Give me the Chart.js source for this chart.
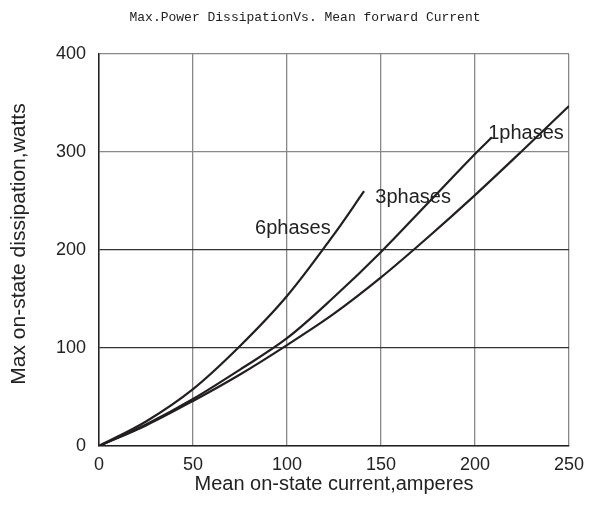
<!DOCTYPE html>
<html>
<head>
<meta charset="utf-8">
<script src="https://cdn.jsdelivr.net/npm/chart.js@4.4.1/dist/chart.umd.min.js"></script>
<style>
  html, body { margin: 0; padding: 0; background: #fff; }
  #wrap { width: 590px; height: 527px; }
</style>
</head>
<body>
<div id="wrap"><canvas id="grafico" width="590" height="527"></canvas></div>
<script>
// valores
const x6 = [0, 25, 50, 75, 100, 125, 141];
const y6 = [0, 25, 58, 102, 153, 216, 260];
const x3 = [0, 25, 50, 75, 100, 125, 150, 175, 200, 209];
const y3 = [0, 22, 48, 78, 110, 152, 198, 248, 298, 315];
const x1 = [0, 25, 50, 75, 100, 125, 150, 175, 200, 225, 250];
const y1 = [0, 21, 46, 73, 103, 135, 172, 213, 256, 301, 347];

const rotulos = ["6phases", "3phases", "1phases"];
const rotuloX = [83, 147, 207];
const rotuloY = [222, 254, 319];

const titulo = "Max.Power DissipationVs. Mean forward Current";
const tituloX = "Mean on-state current,amperes";
const tituloY = "Max on-state dissipation,watts";

function pontos(xs, ys) {
  return xs.map((x, i) => ({ x: x, y: ys[i] }));
}

const textos = {
  id: "textos",
  afterDraw(chart) {
    const ctx = chart.ctx;
    const sx = chart.scales.x, sy = chart.scales.y;
    const area = chart.chartArea;
    ctx.save();
    ctx.fillStyle = "#222";
    ctx.font = "13px 'Liberation Mono'";
    ctx.textAlign = "center";
    ctx.textBaseline = "middle";
    ctx.fillText(titulo, 305, 18);

    ctx.font = "20px 'Liberation Sans'";
    ctx.fillText(tituloX, (area.left + area.right) / 2, 484);
    ctx.font = "21px 'Liberation Sans'";
    ctx.save();
    ctx.translate(19, 244);
    ctx.rotate(-Math.PI / 2);
    ctx.fillText(tituloY, 0, 0);
    ctx.restore();

    ctx.textAlign = "left";
    ctx.font = "20px 'Liberation Sans'";
    rotulos.forEach((r, i) => {
      ctx.fillText(r, sx.getPixelForValue(rotuloX[i]), sy.getPixelForValue(rotuloY[i]));
    });
    ctx.restore();
  }
};

const estilo = { borderColor: "#231f20", borderWidth: 2.2, pointRadius: 0, tension: 0.35, fill: false };

new Chart(document.getElementById("grafico").getContext("2d"), {
  type: "line",
  data: {
    datasets: [
      Object.assign({ label: "6phases", data: pontos(x6, y6) }, estilo),
      Object.assign({ label: "3phases", data: pontos(x3, y3) }, estilo),
      Object.assign({ label: "1phases", data: pontos(x1, y1) }, estilo)
    ]
  },
  options: {
    responsive: false,
    animation: false,
    layout: { padding: { top: 54, right: 21, left: 0, bottom: 0 } },
    plugins: { legend: { display: false }, tooltip: { enabled: false } },
    scales: {
      x: {
        type: "linear", min: 0, max: 250,
        afterFit: s => { s.height = 81; s.paddingRight = 0; s.paddingLeft = 0; },
        ticks: { stepSize: 50, color: "#222", padding: 8, font: { size: 18, family: "'Liberation Sans'" } },
        grid: { color: "#888", lineWidth: 1.3, drawTicks: false },
        border: { color: "#222", width: 1.5 }
      },
      y: {
        min: 0, max: 400,
        afterFit: s => { s.width = 99; s.paddingTop = 0; s.paddingBottom = 0; },
        ticks: { stepSize: 100, color: "#222", padding: 13, font: { size: 18, family: "'Liberation Sans'" } },
        grid: { color: c => (c.tick && (c.tick.value === 100 || c.tick.value === 200)) ? "#333" : "#888", lineWidth: 1.3, drawTicks: false },
        border: { color: "#222", width: 1.5 }
      }
    }
  },
  plugins: [textos]
});
</script>
</body>
</html>
